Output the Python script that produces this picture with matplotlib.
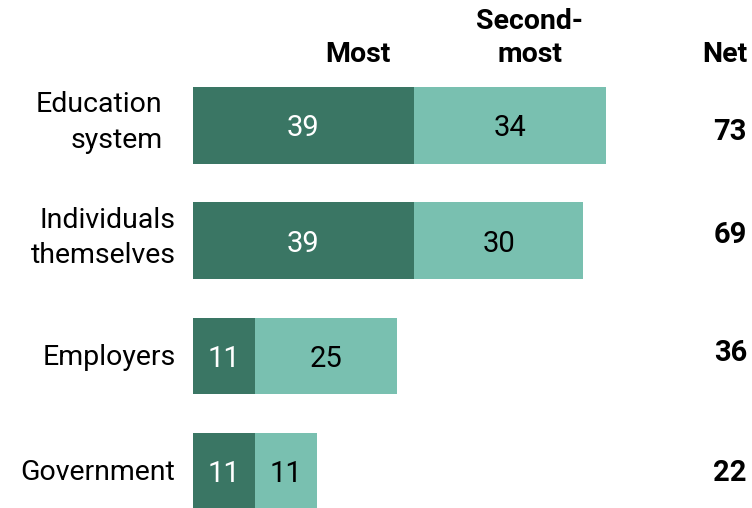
import matplotlib
matplotlib.use('Agg')
import matplotlib.pyplot as plt

# данные
categories = ['Education\nsystem', 'Individuals\nthemselves', 'Employers', 'Government']
most = [39, 39, 11, 11]
second_most = [34, 30, 25, 11]
net = [73, 69, 36, 22]

dark = '#3a7664'
light = '#79c0b0'

plt.rcParams['font.family'] = ['Roboto', 'DejaVu Sans']

fig = plt.figure(figsize=(7.52, 5.08), dpi=100)
ax = fig.add_axes([0, 0, 1, 1])
ax.set_xlim(-34.1, 98.8)
ax.set_ylim(3.317, -1.088)
ax.axis('off')

ys = list(range(len(categories)))
h = 0.665
px = 1 / 115.3  # один пиксель по вертикали в единицах данных

ax.barh(ys, most, height=h, color=dark)
ax.barh(ys, second_most, left=most, height=h, color=light)

fs = 20.5
fv = 21
net_dy = [15, 2, 5, 10]  # смещение подписей итога, px
for i, (y, cat, m, s, n) in enumerate(zip(ys, categories, most, second_most, net)):
    # подписи внутри столбцов
    ax.text(m / 2, y + 11 * px, str(m), ha='center', va='baseline', color='white', fontsize=fv)
    ax.text(m + s / 2, y + 11 * px, str(s), ha='center', va='baseline', color='black', fontsize=fv)
    ax.text(97.9, y + net_dy[i] * px, str(n), ha='right', va='baseline', color='black',
            fontsize=fv, fontweight='bold')
    # категории слева
    xr = -5.4 if cat.startswith('Education') else -3.1
    if '\n' in cat:
        ax.text(xr, y - 3 * px, cat, ha='right', va='center', fontsize=fs, linespacing=1.4)
    else:
        ax.text(xr, y + 9 * px, cat, ha='right', va='baseline', fontsize=fs)

# заголовки столбцов
hy = 62 * px - 125.5 * px
ax.text(29.2, hy, 'Most', ha='center', va='baseline', fontsize=fs, fontweight='bold')
ax.text(59.5, hy, 'Second-\nmost', ha='center', va='baseline', fontsize=fs, fontweight='bold',
        linespacing=1.3)
ax.text(98.0, hy, 'Net', ha='right', va='baseline', fontsize=fs, fontweight='bold')

fig.savefig('out.png', dpi=100)
